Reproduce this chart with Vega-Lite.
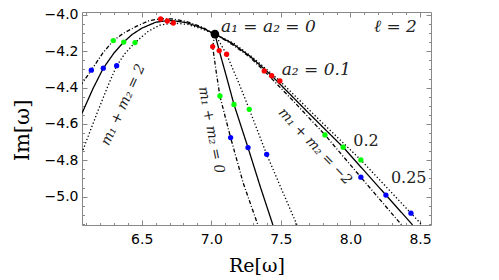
{
  "$schema": "https://vega.github.io/schema/vega-lite/v6.json",
  "width": 349,
  "height": 213,
  "autosize": {"type": "none"},
  "padding": {"left": 82, "top": 12, "right": 68, "bottom": 55},
  "config": {"view": {"stroke": "#888888", "strokeWidth": 1}},
  "datasets": {
    "curves": [
      {"c": "L-dd", "s": "dashdot", "x": 7.026, "y": -4.105},
      {"c": "L-dd", "s": "dashdot", "x": 6.93, "y": -4.065},
      {"c": "L-dd", "s": "dashdot", "x": 6.82, "y": -4.035},
      {"c": "L-dd", "s": "dashdot", "x": 6.72, "y": -4.022},
      {"c": "L-dd", "s": "dashdot", "x": 6.636, "y": -4.02},
      {"c": "L-dd", "s": "dashdot", "x": 6.55, "y": -4.032},
      {"c": "L-dd", "s": "dashdot", "x": 6.46, "y": -4.063},
      {"c": "L-dd", "s": "dashdot", "x": 6.37, "y": -4.1},
      {"c": "L-dd", "s": "dashdot", "x": 6.296, "y": -4.141},
      {"c": "L-dd", "s": "dashdot", "x": 6.22, "y": -4.21},
      {"c": "L-dd", "s": "dashdot", "x": 6.138, "y": -4.304},
      {"c": "L-dd", "s": "dashdot", "x": 6.071, "y": -4.378},
      {"c": "L-so", "s": "solid", "x": 7.026, "y": -4.105},
      {"c": "L-so", "s": "solid", "x": 6.93, "y": -4.07},
      {"c": "L-so", "s": "solid", "x": 6.82, "y": -4.042},
      {"c": "L-so", "s": "solid", "x": 6.72, "y": -4.031},
      {"c": "L-so", "s": "solid", "x": 6.684, "y": -4.031},
      {"c": "L-so", "s": "solid", "x": 6.6, "y": -4.04},
      {"c": "L-so", "s": "solid", "x": 6.5, "y": -4.073},
      {"c": "L-so", "s": "solid", "x": 6.43, "y": -4.108},
      {"c": "L-so", "s": "solid", "x": 6.371, "y": -4.149},
      {"c": "L-so", "s": "solid", "x": 6.3, "y": -4.21},
      {"c": "L-so", "s": "solid", "x": 6.224, "y": -4.293},
      {"c": "L-so", "s": "solid", "x": 6.15, "y": -4.405},
      {"c": "L-so", "s": "solid", "x": 6.071, "y": -4.541},
      {"c": "L-do", "s": "dotted", "x": 7.026, "y": -4.105},
      {"c": "L-do", "s": "dotted", "x": 6.93, "y": -4.076},
      {"c": "L-do", "s": "dotted", "x": 6.83, "y": -4.052},
      {"c": "L-do", "s": "dotted", "x": 6.727, "y": -4.044},
      {"c": "L-do", "s": "dotted", "x": 6.63, "y": -4.056},
      {"c": "L-do", "s": "dotted", "x": 6.55, "y": -4.088},
      {"c": "L-do", "s": "dotted", "x": 6.452, "y": -4.152},
      {"c": "L-do", "s": "dotted", "x": 6.38, "y": -4.212},
      {"c": "L-do", "s": "dotted", "x": 6.32, "y": -4.279},
      {"c": "L-do", "s": "dotted", "x": 6.255, "y": -4.395},
      {"c": "L-do", "s": "dotted", "x": 6.188, "y": -4.523},
      {"c": "L-do", "s": "dotted", "x": 6.105, "y": -4.688},
      {"c": "L-do", "s": "dotted", "x": 6.075, "y": -4.75},
      {"c": "Z-dd", "s": "dashdot", "x": 7.026, "y": -4.105},
      {"c": "Z-dd", "s": "dashdot", "x": 7.01, "y": -4.174},
      {"c": "Z-dd", "s": "dashdot", "x": 7.033, "y": -4.3},
      {"c": "Z-dd", "s": "dashdot", "x": 7.062, "y": -4.446},
      {"c": "Z-dd", "s": "dashdot", "x": 7.1, "y": -4.56},
      {"c": "Z-dd", "s": "dashdot", "x": 7.139, "y": -4.675},
      {"c": "Z-dd", "s": "dashdot", "x": 7.23, "y": -4.926},
      {"c": "Z-dd", "s": "dashdot", "x": 7.335, "y": -5.156},
      {"c": "Z-so", "s": "solid", "x": 7.026, "y": -4.105},
      {"c": "Z-so", "s": "solid", "x": 7.057, "y": -4.196},
      {"c": "Z-so", "s": "solid", "x": 7.11, "y": -4.342},
      {"c": "Z-so", "s": "solid", "x": 7.163, "y": -4.492},
      {"c": "Z-so", "s": "solid", "x": 7.264, "y": -4.73},
      {"c": "Z-so", "s": "solid", "x": 7.35, "y": -4.94},
      {"c": "Z-so", "s": "solid", "x": 7.443, "y": -5.156},
      {"c": "Z-do", "s": "dotted", "x": 7.026, "y": -4.105},
      {"c": "Z-do", "s": "dotted", "x": 7.11, "y": -4.216},
      {"c": "Z-do", "s": "dotted", "x": 7.19, "y": -4.36},
      {"c": "Z-do", "s": "dotted", "x": 7.273, "y": -4.519},
      {"c": "Z-do", "s": "dotted", "x": 7.398, "y": -4.767},
      {"c": "Z-do", "s": "dotted", "x": 7.5, "y": -4.95},
      {"c": "Z-do", "s": "dotted", "x": 7.616, "y": -5.156},
      {"c": "R-dd", "s": "dashdot", "x": 7.026, "y": -4.105},
      {"c": "R-dd", "s": "dashdot", "x": 7.15, "y": -4.162},
      {"c": "R-dd", "s": "dashdot", "x": 7.27, "y": -4.228},
      {"c": "R-dd", "s": "dashdot", "x": 7.381, "y": -4.308},
      {"c": "R-dd", "s": "dashdot", "x": 7.6, "y": -4.482},
      {"c": "R-dd", "s": "dashdot", "x": 7.817, "y": -4.66},
      {"c": "R-dd", "s": "dashdot", "x": 8.075, "y": -4.893},
      {"c": "R-dd", "s": "dashdot", "x": 8.368, "y": -5.156},
      {"c": "R-so", "s": "solid", "x": 7.026, "y": -4.105},
      {"c": "R-so", "s": "solid", "x": 7.15, "y": -4.156},
      {"c": "R-so", "s": "solid", "x": 7.28, "y": -4.228},
      {"c": "R-so", "s": "solid", "x": 7.434, "y": -4.334},
      {"c": "R-so", "s": "solid", "x": 7.7, "y": -4.54},
      {"c": "R-so", "s": "solid", "x": 7.948, "y": -4.728},
      {"c": "R-so", "s": "solid", "x": 8.255, "y": -4.991},
      {"c": "R-so", "s": "solid", "x": 8.447, "y": -5.156},
      {"c": "R-do", "s": "dotted", "x": 7.026, "y": -4.105},
      {"c": "R-do", "s": "dotted", "x": 7.16, "y": -4.155},
      {"c": "R-do", "s": "dotted", "x": 7.3, "y": -4.235},
      {"c": "R-do", "s": "dotted", "x": 7.493, "y": -4.363},
      {"c": "R-do", "s": "dotted", "x": 7.78, "y": -4.58},
      {"c": "R-do", "s": "dotted", "x": 8.075, "y": -4.798},
      {"c": "R-do", "s": "dotted", "x": 8.435, "y": -5.091},
      {"c": "R-do", "s": "dotted", "x": 8.515, "y": -5.156}
    ],
    "points": [
      {"a": "0.1", "x": 6.636, "y": -4.022},
      {"a": "0.1", "x": 6.684, "y": -4.033},
      {"a": "0.1", "x": 6.727, "y": -4.044},
      {"a": "0.1", "x": 7.01, "y": -4.174},
      {"a": "0.1", "x": 7.057, "y": -4.196},
      {"a": "0.1", "x": 7.11, "y": -4.216},
      {"a": "0.1", "x": 7.381, "y": -4.308},
      {"a": "0.1", "x": 7.434, "y": -4.334},
      {"a": "0.1", "x": 7.493, "y": -4.363},
      {"a": "0.2", "x": 6.296, "y": -4.141},
      {"a": "0.2", "x": 6.371, "y": -4.149},
      {"a": "0.2", "x": 6.452, "y": -4.152},
      {"a": "0.2", "x": 7.062, "y": -4.446},
      {"a": "0.2", "x": 7.163, "y": -4.492},
      {"a": "0.2", "x": 7.273, "y": -4.519},
      {"a": "0.2", "x": 7.817, "y": -4.66},
      {"a": "0.2", "x": 7.948, "y": -4.728},
      {"a": "0.2", "x": 8.075, "y": -4.798},
      {"a": "0.25", "x": 6.138, "y": -4.304},
      {"a": "0.25", "x": 6.224, "y": -4.293},
      {"a": "0.25", "x": 6.32, "y": -4.279},
      {"a": "0.25", "x": 7.139, "y": -4.675},
      {"a": "0.25", "x": 7.264, "y": -4.73},
      {"a": "0.25", "x": 7.398, "y": -4.767},
      {"a": "0.25", "x": 8.075, "y": -4.893},
      {"a": "0.25", "x": 8.255, "y": -4.991},
      {"a": "0.25", "x": 8.435, "y": -5.091}
    ],
    "origin": [{"x": 7.026, "y": -4.105}],
    "labelsItalic": [
      {"x": 7.07, "y": -4.066, "t": "a₁ = a₂ = 0"},
      {"x": 7.506, "y": -4.303, "t": "a₂ = 0.1"},
      {"x": 8.169, "y": -4.066, "t": "ℓ = 2"}
    ],
    "labelsPlain": [
      {"x": 8.02, "y": -4.693, "t": "0.2"},
      {"x": 8.291, "y": -4.895, "t": "0.25"}
    ],
    "rotA": [{"x": 6.368, "y": -4.495, "t": "m₁ + m₂ = 2"}],
    "rotB": [{"x": 6.998, "y": -4.633, "t": "m₁ + m₂ = 0"}],
    "rotC": [{"x": 7.745, "y": -4.724, "t": "m₁ + m₂ = −2"}]
  },
  "resolve": {"axis": {"x": "independent", "y": "independent"}},
  "layer": [
    {
      "data": {"name": "curves"},
      "mark": {"type": "line", "color": "#000000", "strokeWidth": 1.3, "clip": true},
      "encoding": {
        "x": {"field": "x", "type": "quantitative",
          "scale": {"domain": [6.071, 8.579], "nice": false, "zero": false},
          "axis": {"orient": "bottom", "values": [6.5, 7, 7.5, 8, 8.5], "format": ".1f",
            "tickSize": -5, "tickColor": "#888888", "domain": false, "grid": false,
            "labelFont": "DejaVu Sans", "labelFontSize": 14, "labelColor": "#000000", "labelPadding": 12,
            "title": "Re[ω]", "titleFont": "DejaVu Serif", "titleFontSize": 19, "titleFontWeight": "normal",
            "titleColor": "#000000", "titleY": 40, "titleBaseline": "middle"}},
        "y": {"field": "y", "type": "quantitative",
          "scale": {"domain": [-5.156, -3.9835], "nice": false, "zero": false},
          "axis": {"orient": "left", "values": [-5, -4.8, -4.6, -4.4, -4.2, -4], "format": ".1f",
            "tickSize": -5, "tickColor": "#888888", "domain": false, "grid": false,
            "labelFont": "DejaVu Sans", "labelFontSize": 14, "labelColor": "#000000", "labelPadding": 9,
            "title": "Im[ω]", "titleFont": "DejaVu Serif", "titleFontSize": 21, "titleFontWeight": "normal",
            "titleColor": "#000000", "titleX": -60, "titleY": 118, "titleBaseline": "middle"}},
        "detail": {"field": "c"},
        "strokeDash": {"field": "s", "type": "nominal",
          "scale": {"domain": ["dashdot", "solid", "dotted"], "range": [[4, 2, 1, 2], [1, 0], [1.3, 2.2]]},
          "legend": null},
        "order": {"value": null}
      }
    },
    {
      "data": {"name": "points"},
      "mark": {"type": "circle", "size": 28, "opacity": 1},
      "encoding": {
        "x": {"field": "x", "type": "quantitative",
          "scale": {"domain": [6.071, 8.579], "nice": false, "zero": false},
          "axis": {"orient": "bottom", "values": [6.1, 6.2, 6.3, 6.4, 6.6, 6.7, 6.8, 6.9, 7.1, 7.2, 7.3, 7.4, 7.6, 7.7, 7.8, 7.9, 8.1, 8.2, 8.3, 8.4],
            "labels": false, "tickSize": -2.5, "tickColor": "#888888", "domain": false, "grid": false, "title": null}},
        "y": {"field": "y", "type": "quantitative",
          "scale": {"domain": [-5.156, -3.9835], "nice": false, "zero": false},
          "axis": {"orient": "left", "values": [-4.05, -4.1, -4.15, -4.25, -4.3, -4.35, -4.45, -4.5, -4.55, -4.65, -4.7, -4.75, -4.85, -4.9, -4.95, -5.05, -5.1, -5.15],
            "labels": false, "tickSize": -2.5, "tickColor": "#888888", "domain": false, "grid": false, "title": null}},
        "color": {"field": "a", "type": "nominal",
          "scale": {"domain": ["0.1", "0.2", "0.25"], "range": ["#ff0000", "#00ff00", "#0000ff"]},
          "legend": null}
      }
    },
    {
      "data": {"name": "origin"},
      "mark": {"type": "circle", "size": 75, "color": "#000000", "opacity": 1},
      "encoding": {
        "x": {"field": "x", "type": "quantitative",
          "scale": {"domain": [6.071, 8.579], "nice": false, "zero": false},
          "axis": {"orient": "top", "values": [6.5, 7, 7.5, 8, 8.5], "labels": false,
            "tickSize": -5, "tickColor": "#888888", "domain": false, "grid": false, "title": null}},
        "y": {"field": "y", "type": "quantitative",
          "scale": {"domain": [-5.156, -3.9835], "nice": false, "zero": false},
          "axis": {"orient": "right", "values": [-5, -4.8, -4.6, -4.4, -4.2, -4], "labels": false,
            "tickSize": -5, "tickColor": "#888888", "domain": false, "grid": false, "title": null}}
      }
    },
    {
      "data": {"name": "labelsItalic"},
      "mark": {"type": "text", "align": "left", "baseline": "middle", "font": "DejaVu Serif", "fontStyle": "italic", "fontSize": 17, "color": "#222222"},
      "encoding": {
        "x": {"field": "x", "type": "quantitative",
          "scale": {"domain": [6.071, 8.579], "nice": false, "zero": false},
          "axis": {"orient": "top", "values": [6.1, 6.2, 6.3, 6.4, 6.6, 6.7, 6.8, 6.9, 7.1, 7.2, 7.3, 7.4, 7.6, 7.7, 7.8, 7.9, 8.1, 8.2, 8.3, 8.4],
            "labels": false, "tickSize": -2.5, "tickColor": "#888888", "domain": false, "grid": false, "title": null}},
        "y": {"field": "y", "type": "quantitative",
          "scale": {"domain": [-5.156, -3.9835], "nice": false, "zero": false},
          "axis": {"orient": "right", "values": [-4.05, -4.1, -4.15, -4.25, -4.3, -4.35, -4.45, -4.5, -4.55, -4.65, -4.7, -4.75, -4.85, -4.9, -4.95, -5.05, -5.1, -5.15],
            "labels": false, "tickSize": -2.5, "tickColor": "#888888", "domain": false, "grid": false, "title": null}},
        "text": {"field": "t"}
      }
    },
    {
      "data": {"name": "labelsPlain"},
      "mark": {"type": "text", "align": "left", "baseline": "middle", "font": "DejaVu Serif", "fontSize": 16, "color": "#222222"},
      "encoding": {
        "x": {"field": "x", "type": "quantitative", "scale": {"domain": [6.071, 8.579], "nice": false, "zero": false}, "axis": null},
        "y": {"field": "y", "type": "quantitative", "scale": {"domain": [-5.156, -3.9835], "nice": false, "zero": false}, "axis": null},
        "text": {"field": "t"}
      }
    },
    {
      "data": {"name": "rotA"},
      "mark": {"type": "text", "align": "center", "baseline": "middle", "angle": 294.6, "font": "DejaVu Serif", "fontStyle": "italic", "fontSize": 14, "color": "#222222"},
      "encoding": {
        "x": {"field": "x", "type": "quantitative", "scale": {"domain": [6.071, 8.579], "nice": false, "zero": false}, "axis": null},
        "y": {"field": "y", "type": "quantitative", "scale": {"domain": [-5.156, -3.9835], "nice": false, "zero": false}, "axis": null},
        "text": {"field": "t"}
      }
    },
    {
      "data": {"name": "rotB"},
      "mark": {"type": "text", "align": "center", "baseline": "middle", "angle": 79, "font": "DejaVu Serif", "fontStyle": "italic", "fontSize": 14, "color": "#222222"},
      "encoding": {
        "x": {"field": "x", "type": "quantitative", "scale": {"domain": [6.071, 8.579], "nice": false, "zero": false}, "axis": null},
        "y": {"field": "y", "type": "quantitative", "scale": {"domain": [-5.156, -3.9835], "nice": false, "zero": false}, "axis": null},
        "text": {"field": "t"}
      }
    },
    {
      "data": {"name": "rotC"},
      "mark": {"type": "text", "align": "center", "baseline": "middle", "angle": 46.5, "font": "DejaVu Serif", "fontStyle": "italic", "fontSize": 14, "color": "#222222"},
      "encoding": {
        "x": {"field": "x", "type": "quantitative", "scale": {"domain": [6.071, 8.579], "nice": false, "zero": false}, "axis": null},
        "y": {"field": "y", "type": "quantitative", "scale": {"domain": [-5.156, -3.9835], "nice": false, "zero": false}, "axis": null},
        "text": {"field": "t"}
      }
    }
  ]
}
